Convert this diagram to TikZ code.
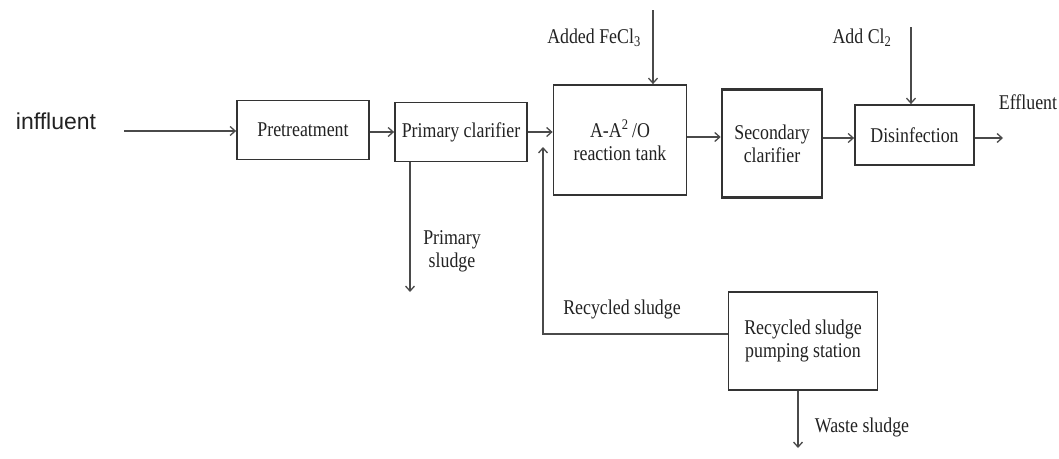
\documentclass[tikz,border=0pt]{standalone}
\usepackage{fontspec}
\setmainfont{Liberation Serif}[FakeStretch=0.85]
\newfontfamily\arialf{Liberation Sans}
\usetikzlibrary{arrows.meta}
\definecolor{boxc}{HTML}{333333}
\definecolor{arrc}{HTML}{4A4A4A}
\definecolor{txtc}{HTML}{222222}
\tikzset{
  unit/.style={draw=boxc, line width=1.8pt, fill=white, inner sep=2pt, align=center, text=txtc, font=\fontsize{21}{23}\selectfont},
  arr/.style={draw=arrc, line width=1.3pt, -{Straight Barb[length=5pt,width=9pt,line width=1.3pt]}},
  lbl/.style={text=txtc, font=\fontsize{21}{23}\selectfont, inner sep=0pt, align=center},
}
\begin{document}
\begin{tikzpicture}[x=1pt,y=-1pt]
\useasboundingbox[fill=white] (0,0) rectangle (1059,458);
% boxes
\node[unit, minimum width=132pt, minimum height=59pt] (pre) at (303,130) {Pretreatment};
\node[unit, minimum width=132pt, minimum height=59pt] (pc) at (461,132) {Primary clarifier};
\node[unit, minimum width=133pt, minimum height=110pt] (a2o) at (620,140) {A-A\textsuperscript{2}\,/O\\reaction tank};
\node[unit, line width=2.6pt, minimum width=100pt, minimum height=108pt] (sec) at (772,143.5) {Secondary\\clarifier};
\node[unit, minimum width=119pt, minimum height=60pt] (dis) at (914.5,135) {Disinfection};
\node[unit, minimum width=149pt, minimum height=98pt] (pump) at (803,341) {Recycled sludge\\pumping station};
% labels
\node[lbl, font=\arialf\fontsize{23}{25}\selectfont] (inf) at (56,121) {inffluent};
\node[lbl] (fel) at (594,38) {Added FeCl\textsubscript{3}};
\node[lbl] (cll) at (862,38) {Add Cl\textsubscript{2}};
\node[lbl] (effl) at (1028,102) {Effluent};
\node[lbl] (psl) at (452,251) {Primary\\sludge};
\node[lbl] (rsl) at (622,309) {Recycled sludge};
\node[lbl] (wsl) at (862,427) {Waste sludge};
% coordinates
\coordinate (infs) at (124,131);
\coordinate (fe) at (653,10);
\coordinate (cl) at (911,27);
\coordinate (eff) at (1003,138);
\coordinate (pse) at (410,292);
\coordinate (rc) at (543,334);
\coordinate (rt) at (543,147);
\coordinate (ws) at (798,448);
% connectors
\draw[arr, line width=2.4pt] (infs) -- (infs -| pre.west);
\draw[arr] (pc.west -| pre.east) -- (pc.west);
\draw[arr] (pc.east) -- (pc.east -| a2o.west);
\draw[arr] ([yshift=3pt]a2o.east) -- ([yshift=3pt]a2o.east -| sec.west);
\draw[arr] ([yshift=-3pt]dis.west -| sec.east) -- ([yshift=-3pt]dis.west);
\draw[arr] ([yshift=-3pt]dis.east) -- (eff);
\draw[arr] (fe) -- (fe |- a2o.north);
\draw[arr] (cl) -- (cl |- dis.north);
\draw[arr] (pse |- pc.south) -- (pse);
\draw[arr] (rc -| pump.west) -- (rc) -- (rt);
\draw[arr] (ws |- pump.south) -- (ws);
\end{tikzpicture}
\end{document}
